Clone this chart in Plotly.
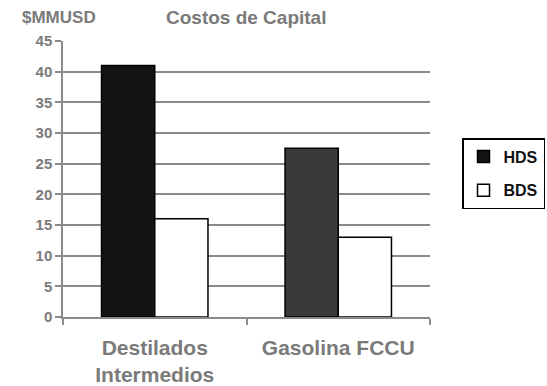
import plotly.graph_objects as go

categories = ["Destilados<br>Intermedios", "Gasolina FCCU"]
hds = [41, 27.5]
bds = [16, 13]
y_ticks = [0, 5, 10, 15, 20, 25, 30, 35, 40, 45]

font = "Liberation Sans, Arial, sans-serif"
gray = "#7a7a7a"
L, R, T, B = 63, 117, 41, 69
W, H = 547, 386
pw = W - L - R
ph = H - T - B

fig = go.Figure()
fig.add_trace(go.Bar(
    x=categories, y=hds, name="<b>HDS</b>", legendgroup="a",
    marker=dict(color=["#141414", "#3a3a3a"], line=dict(color="#000", width=1.5)),
))
fig.add_trace(go.Bar(
    x=categories, y=bds, name="<b>BDS</b>", legendgroup="b",
    marker=dict(color="#ffffff", line=dict(color="#000", width=1.5)),
))

fig.update_layout(
    width=W, height=H,
    margin=dict(l=L, r=R, t=T, b=B, autoexpand=False),
    paper_bgcolor="#ffffff", plot_bgcolor="#ffffff",
    barmode="group", bargap=0.42, bargroupgap=0,
    showlegend=True,
    legend=dict(
        x=(462 - L) / pw, xref="paper", xanchor="left",
        y=(H - B - 138) / ph, yref="paper", yanchor="top",
        bordercolor="#000", borderwidth=1.5, bgcolor="#fff",
        font=dict(family=font, size=16, color="#111"),
        itemwidth=30, tracegroupgap=10,
    ),
    font=dict(family=font),
    annotations=[
        dict(text="<b>Costos de Capital</b>", x=(246 - L) / pw, xref="paper",
             y=(H - B - 17) / ph, yref="paper", xanchor="center", yanchor="middle",
             showarrow=False, font=dict(family=font, size=19, color=gray)),
        dict(text="<b>$MMUSD</b>", x=(59 - L) / pw, xref="paper",
             y=(H - B - 17) / ph, yref="paper", xanchor="center", yanchor="middle",
             showarrow=False, font=dict(family=font, size=17, color=gray)),
    ],
)

fig.update_yaxes(
    range=[0, 45], tickvals=y_ticks, ticktext=[f"<b>{v}</b>" for v in y_ticks],
    showgrid=True, gridcolor="#8a8a8a", gridwidth=1.5,
    showline=True, linecolor="#8a8a8a", linewidth=1.5,
    ticks="outside", ticklen=6, tickcolor="#8a8a8a", tickwidth=1.5,
    tickfont=dict(family=font, size=15, color=gray),
    zeroline=False,
)
fig.update_xaxes(
    showline=True, linecolor="#8a8a8a", linewidth=1.5,
    ticks="outside", ticklen=6, tickcolor="#8a8a8a", tickwidth=1.5,
    tickson="boundaries",
    tickvals=categories,
    ticktext=["<b>Destilados<br>Intermedios</b>", "<b>Gasolina FCCU</b>"],
    tickfont=dict(family=font, size=21, color=gray),
    ticklabelstandoff=11,
)

fig.write_html("out.html")
